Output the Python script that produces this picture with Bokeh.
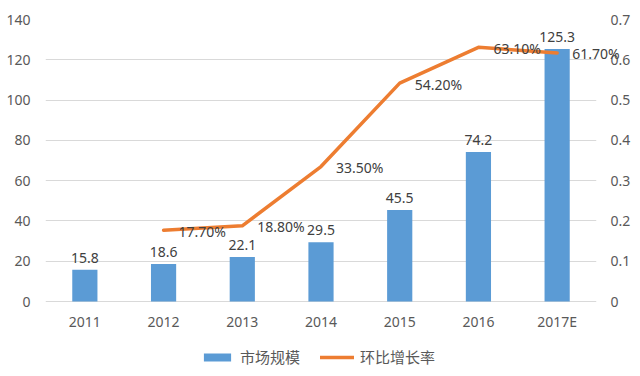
from bokeh.plotting import figure
from bokeh.models import (FactorRange, Range1d, LinearAxis, FixedTicker, NumeralTickFormatter,
                          Legend, LegendItem, ColumnDataSource, LabelSet, Label)
from bokeh.core.properties import value
from bokeh.embed import file_html
from bokeh.resources import INLINE

years = ["2011", "2012", "2013", "2014", "2015", "2016", "2017E"]
market = [15.8, 18.6, 22.1, 29.5, 45.5, 74.2, 125.3]
growth_years = ["2012", "2013", "2014", "2015", "2016", "2017E"]
growth = [0.177, 0.188, 0.335, 0.542, 0.631, 0.617]
growth_labels = ["17.70%", "18.80%", "33.50%", "54.20%", "63.10%", "61.70%"]
left_ticks = [0, 20, 40, 60, 80, 100, 120, 140]
right_ticks = [0, 0.1, 0.2, 0.3, 0.4, 0.5, 0.6, 0.7]

BLUE = "#5B9BD5"
ORANGE = "#ED7D31"
TICK = "#595959"
LAB = "#404040"
NUMFONT = "Noto Sans"
CJK = "Noto Sans CJK SC"

# the frame reaches down to the page bottom so the legend (inside the frame) is not clipped
Y_MIN = -36.7
Y_MAX = 140
R_MAX = 0.7
R_MIN = Y_MIN * R_MAX / Y_MAX

p = figure(frame_width=551, frame_height=356, x_range=FactorRange(*years),
           y_range=Range1d(Y_MIN, Y_MAX), output_backend="svg", toolbar_location=None,
           min_border_left=45, min_border_right=44, min_border_top=18, min_border_bottom=0)
p.extra_y_ranges = {"r": Range1d(R_MIN, R_MAX)}
p.outline_line_color = None
p.background_fill_color = "white"
p.border_fill_color = "white"

bar_src = ColumnDataSource(dict(x=years, y=market, t=[str(v) for v in market],
                                zero=[0] * len(years)))
bars = p.vbar(x="x", top="y", bottom=0, width=0.32, source=bar_src, fill_color=BLUE,
              line_color=None)

line_src = ColumnDataSource(dict(x=growth_years, y=growth))
ln = p.line(x="x", y="y", source=line_src, y_range_name="r", line_color=ORANGE,
            line_width=3.5, line_join="round", line_cap="round")

# bar value labels
p.add_layout(LabelSet(x="x", y="y", text="t", source=bar_src, text_align="center",
                      text_baseline="bottom", y_offset=7, text_font=value(NUMFONT),
                      text_font_size="14px", text_color=LAB))
# category labels under the bars (the x axis sits inside the frame)
p.add_layout(LabelSet(x="x", y="zero", text="x", source=bar_src, text_align="center",
                      text_baseline="middle", y_offset=-20, text_font=value(NUMFONT),
                      text_font_size="14px", text_color=TICK))
# growth labels
inner = ColumnDataSource(dict(x=growth_years[:-1], y=growth[:-1], t=growth_labels[:-1]))
p.add_layout(LabelSet(x="x", y="y", text="t", source=inner, y_range_name="r",
                      text_align="left", text_baseline="middle", x_offset=15, y_offset=-1,
                      text_font=value(NUMFONT), text_font_size="14px", text_color=LAB))
# last label extends beyond the frame: place it in a side panel so it is not clipped
last_x = years.index(growth_years[-1]) + 0.5
p.add_layout(Label(x=last_x, y=growth[-1], y_range_name="r", text=growth_labels[-1],
                   text_align="left", text_baseline="middle", x_offset=15, y_offset=-1,
                   text_font=NUMFONT, text_font_size="14px", text_color=LAB), "above")

def style_axis(ax):
    ax.axis_line_color = None
    ax.major_tick_line_color = None
    ax.minor_tick_line_color = None
    ax.major_tick_out = 0
    ax.major_tick_in = 0
    ax.major_label_text_font = NUMFONT
    ax.major_label_text_font_size = "14px"
    ax.major_label_text_color = TICK
    ax.major_label_standoff = 14

p.yaxis.ticker = FixedTicker(ticks=left_ticks)
style_axis(p.yaxis[0])
p.yaxis[0].major_label_standoff = 15
p.xaxis.visible = False

raxis = LinearAxis(y_range_name="r", ticker=FixedTicker(ticks=right_ticks),
                   formatter=NumeralTickFormatter(format="0.[0]"))
style_axis(raxis)
p.add_layout(raxis, "right")

p.xgrid.grid_line_color = None
p.ygrid.ticker = FixedTicker(ticks=left_ticks)
p.ygrid.grid_line_color = "#D9D9D9"
p.ygrid.grid_line_width = 1

legend = Legend(items=[LegendItem(label="市场规模", renderers=[bars]),
                       LegendItem(label="环比增长率", renderers=[ln])],
                orientation="horizontal", location=(155, 8))
legend.padding = 0
legend.margin = 0
legend.border_line_color = None
legend.background_fill_alpha = 0
legend.glyph_width = 34
legend.glyph_height = 10
legend.label_standoff = 6
legend.spacing = 20
legend.label_text_font = CJK
legend.label_text_font_size = "15px"
legend.label_text_color = TICK
legend.label_height = 20
p.add_layout(legend)

open("out.html", "w").write(file_html(p, INLINE))
